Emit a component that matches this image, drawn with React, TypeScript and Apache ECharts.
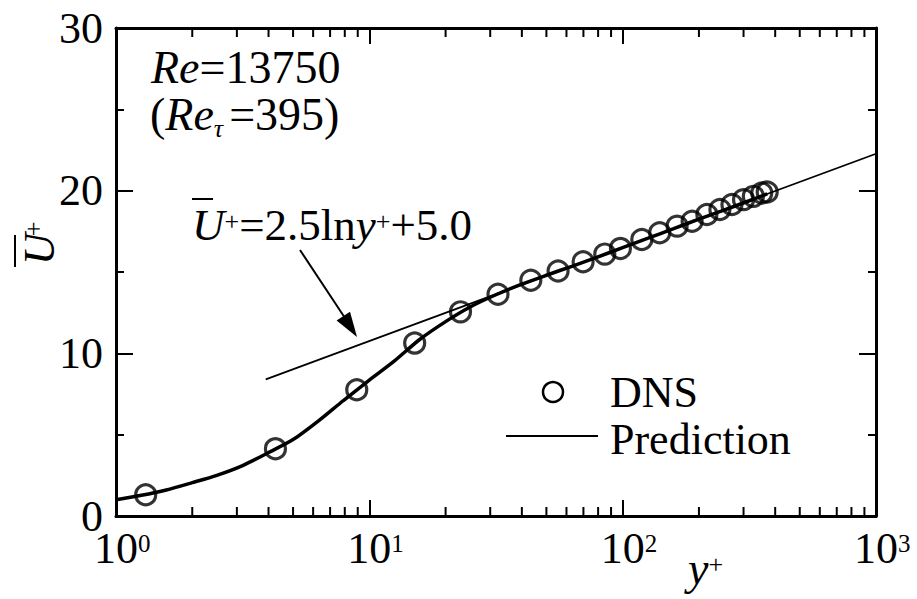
import React, { useEffect, useRef } from 'react';
import * as echarts from 'echarts';

// ---- data ----
const dnsYPlus = [1.31, 4.26, 8.92, 15.1, 22.9, 32.2, 43.4, 55.6, 69.8, 85, 98, 119, 140, 164, 188, 215, 242, 270, 300, 328, 354, 372];
const dnsU = [1.31, 4.14, 7.76, 10.63, 12.55, 13.63, 14.49, 15.06, 15.63, 16.1, 16.45, 17.0, 17.41, 17.82, 18.12, 18.53, 18.84, 19.15, 19.45, 19.65, 19.86, 19.92];

const predYPlus = [1, 1.26, 1.58, 2, 2.5, 3.16, 4, 5, 6.3, 7.9, 10, 12.6, 15.8, 20, 25, 31.6, 40, 50, 63, 79, 100, 126, 158, 200, 251, 316, 372];
const predU = [1.0, 1.27, 1.6, 2.05, 2.5, 3.1, 3.9, 4.7, 5.85, 7.1, 8.35, 9.55, 10.85, 11.95, 12.85, 13.6, 14.25, 14.8, 15.35, 15.9, 16.5, 17.08, 17.65, 18.25, 18.8, 19.38, 19.8];

const lawYPlus = [3.9, 1000];
const lawU = [8.4, 22.27];

const xMinorTicks = [2, 3, 4, 5, 6, 7, 8, 9, 20, 30, 40, 50, 60, 70, 80, 90, 200, 300, 400, 500, 600, 700, 800, 900];
const xMin = 1;
const xMax = 1000;
const yMin = 0;
const yMax = 30;
const yInterval = 10;

const FONT = "'Liberation Serif', 'Times New Roman', serif";
const BLACK = '#000';

const norm = (size: number) => ({ fontSize: size, fontFamily: FONT, fontStyle: 'normal', fontWeight: 'normal', fill: BLACK });
const ital = (size: number) => ({ fontSize: size, fontFamily: FONT, fontStyle: 'italic', fontWeight: 'normal', fill: BLACK });

export default function App() {
  const ref = useRef<HTMLDivElement>(null);

  useEffect(() => {
    if (!ref.current) return;
    const chart = echarts.init(ref.current, null, { renderer: 'svg' });

    const axisLine = { show: true, onZero: false, lineStyle: { color: BLACK, width: 3 } };
    const xTick = { show: true, inside: true, length: 16, lineStyle: { color: BLACK, width: 2 } };
    const yTick = { show: true, inside: true, length: 17, lineStyle: { color: BLACK, width: 2 } };
    const yMinor = { show: true, splitNumber: 2, length: 8, lineStyle: { color: BLACK, width: 2 } };

    const xLabelRich = {
      p: { width: 12.5, fontSize: 25, fontFamily: FONT },
      b: { fontSize: 44, fontFamily: FONT, fontStyle: 'normal', color: BLACK, lineHeight: 34 },
      s: { fontSize: 25, fontFamily: FONT, fontStyle: 'normal', color: BLACK, height: 25, verticalAlign: 'top' },
    };

    const option: any = {
      animation: false,
      backgroundColor: '#fff',
      grid: { left: 116, right: 41, top: 28, bottom: 83, containLabel: false },
      xAxis: [
        {
          type: 'log', logBase: 10, min: xMin, max: xMax, position: 'bottom',
          axisLine, axisTick: xTick,
          splitLine: { show: false },
          axisLabel: {
            show: true, margin: 15, lineHeight: 34,
            formatter: (v: number) => `{p| }{b|10}{s|${Math.round(Math.log10(v))}}`,
            rich: xLabelRich,
          },
        },
        {
          type: 'log', logBase: 10, min: xMin, max: xMax, position: 'top',
          axisLine, axisTick: xTick,
          splitLine: { show: false }, axisLabel: { show: false },
        },
      ],
      yAxis: [
        {
          type: 'value', min: yMin, max: yMax, interval: yInterval, position: 'left',
          axisLine, axisTick: yTick, minorTick: yMinor,
          splitLine: { show: false }, minorSplitLine: { show: false },
          axisLabel: { show: true, margin: 13, color: BLACK, fontSize: 44, fontFamily: FONT, lineHeight: 26, padding: [0, 0, 4, 0] },
        },
        {
          type: 'value', min: yMin, max: yMax, interval: yInterval, position: 'right',
          axisLine, axisTick: yTick, minorTick: yMinor,
          splitLine: { show: false }, minorSplitLine: { show: false },
          axisLabel: { show: false },
        },
      ],
      series: [
        {
          name: 'Log law', type: 'line', xAxisIndex: 0, yAxisIndex: 0,
          data: lawYPlus.map((x, i) => [x, lawU[i]]),
          symbol: 'none', silent: true,
          lineStyle: { color: BLACK, width: 1.8 },
          z: 2,
        },
        {
          name: 'Prediction', type: 'line', xAxisIndex: 0, yAxisIndex: 0,
          data: predYPlus.map((x, i) => [x, predU[i]]),
          symbol: 'none', smooth: 0.25, silent: true,
          lineStyle: { color: BLACK, width: 3.5 },
          z: 3,
        },
        {
          name: 'DNS', type: 'scatter', xAxisIndex: 0, yAxisIndex: 0,
          data: dnsYPlus.map((x, i) => [x, dnsU[i]]),
          symbol: 'circle', symbolSize: 20, silent: true,
          itemStyle: { color: 'rgba(0,0,0,0)', borderColor: BLACK, borderWidth: 3.2 },
          z: 4,
        },
        {
          name: 'minorX', type: 'custom', xAxisIndex: 0, yAxisIndex: 0,
          data: xMinorTicks.map((v) => [v, yMin]),
          silent: true, clip: false, z: 5,
          renderItem: (params: any, api: any) => {
            const v = api.value(0);
            const pb = api.coord([v, yMin]);
            const pt = api.coord([v, yMax]);
            const st = { stroke: BLACK, lineWidth: 2 };
            return {
              type: 'group',
              children: [
                { type: 'line', shape: { x1: pb[0], y1: pb[1], x2: pb[0], y2: pb[1] - 9 }, style: st },
                { type: 'line', shape: { x1: pt[0], y1: pt[1], x2: pt[0], y2: pt[1] + 9 }, style: st },
              ],
            };
          },
        },
      ],
      graphic: [
        // Re annotation
        {
          type: 'text', x: 151, y: 67.5, silent: true,
          style: {
            ...norm(46),
            text: '{i|Re}{n|=13750}', align: 'left', verticalAlign: 'middle', lineHeight: 46,
            rich: { i: ital(46), n: norm(46) },
          },
        },
        {
          type: 'text', x: 150, y: 114.5, silent: true,
          style: {
            ...norm(46),
            text: '{n|(}{i|Re}{sub|τ}{g| }{n|=395)}', align: 'left', verticalAlign: 'middle', lineHeight: 46,
            rich: {
              i: ital(46),
              n: norm(46),
              sub: { ...ital(26), height: 19, verticalAlign: 'bottom' },
              g: { ...norm(26), width: 6 },
            },
          },
        },
        // equation
        {
          type: 'text', x: 192, y: 224.8, silent: true,
          style: {
            ...norm(45),
            text: '{u|U}{sp|+}{n|=2.5ln}{i|y}{sp|+}{n|+5.0}', align: 'left', verticalAlign: 'middle', lineHeight: 45,
            rich: {
              u: ital(45),
              i: ital(45),
              n: norm(45),
              sp: { ...norm(26), height: 38, verticalAlign: 'top' },
            },
          },
        },
        { type: 'line', silent: true, shape: { x1: 192, y1: 199, x2: 213, y2: 199 }, style: { stroke: BLACK, lineWidth: 2 } },
        // arrow
        { type: 'line', silent: true, shape: { x1: 300, y1: 250, x2: 345, y2: 318 }, style: { stroke: BLACK, lineWidth: 2 } },
        { type: 'polygon', silent: true, shape: { points: [[357, 337], [336.6, 320.5], [350, 311.7]] }, style: { fill: BLACK } },
        // legend
        { type: 'circle', silent: true, shape: { cx: 553, cy: 392, r: 10 }, style: { fill: 'none', stroke: BLACK, lineWidth: 2.5 } },
        {
          type: 'text', x: 610, y: 392.5, silent: true,
          style: { ...norm(44), text: 'DNS', align: 'left', verticalAlign: 'middle' },
        },
        { type: 'line', silent: true, shape: { x1: 506, y1: 436, x2: 598, y2: 436 }, style: { stroke: BLACK, lineWidth: 1.8 } },
        {
          type: 'text', x: 610, y: 439, silent: true,
          style: { ...norm(44), text: 'Prediction', align: 'left', verticalAlign: 'middle' },
        },
        // x axis name
        {
          type: 'text', x: 688, y: 568, silent: true,
          style: {
            ...norm(46),
            text: '{i|y}{s|+}', align: 'left', verticalAlign: 'middle', lineHeight: 46,
            rich: {
              i: ital(46),
              s: { ...norm(26), height: 38, verticalAlign: 'top' },
            },
          },
        },
        // y axis name (rotated)
        {
          type: 'group', x: 39, y: 250, rotation: Math.PI / 2, silent: true,
          children: [
            {
              type: 'text', x: -15, y: 0,
              style: { ...ital(44), text: 'U', align: 'left', verticalAlign: 'middle' },
            },
            {
              type: 'text', x: 21, y: -6,
              style: { ...norm(26), text: '+', align: 'center', verticalAlign: 'middle' },
            },
            { type: 'line', shape: { x1: -17, y1: -24, x2: 15, y2: -24 }, style: { stroke: BLACK, lineWidth: 2 } },
          ],
        },
      ],
    };

    chart.setOption(option);
    return () => chart.dispose();
  }, []);

  return (
    <div
      ref={ref}
      style={{ position: 'fixed', left: 0, top: 0, width: 917, height: 599, background: '#fff' }}
    />
  );
}
